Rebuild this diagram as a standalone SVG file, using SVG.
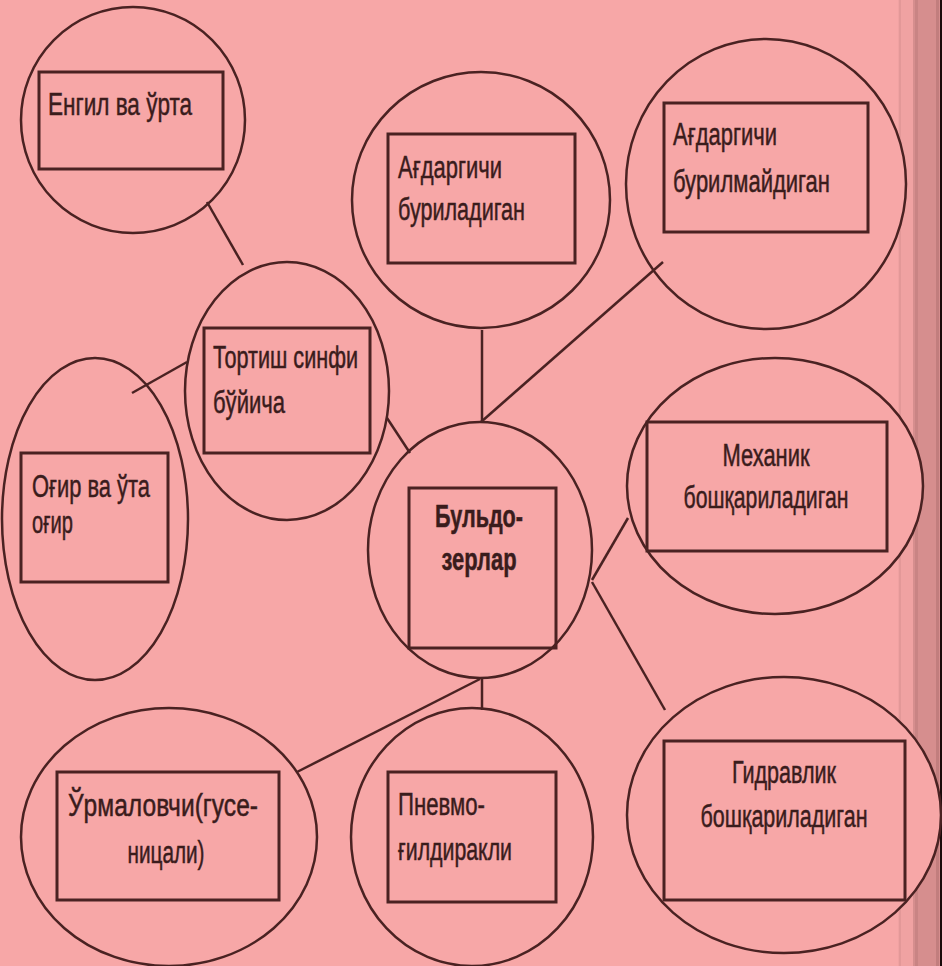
<svg xmlns="http://www.w3.org/2000/svg" width="942" height="966" viewBox="0 0 942 966">
<style>
.bg{fill:#f7a7a7}
.el{fill:#f7a7a7;stroke:#4a2222;stroke-width:2.5}
.bx{fill:none;stroke:#4a2222;stroke-width:3}
.cn{stroke:#4a2222;stroke-width:2.5;fill:none}
text{font-family:"Liberation Sans","DejaVu Sans",sans-serif;font-size:31px;fill:#3a1c1c;stroke:#3a1c1c;stroke-width:0.5}
.b{font-weight:bold}
</style>
<rect class="bg" x="0" y="0" width="942" height="966"/>
<g id="edge-strip">
<rect x="898" y="0" width="15" height="966" fill="#f0a2a2"/>
<rect x="899" y="0" width="2" height="966" fill="#e39898"/>
<rect x="913" y="0" width="27" height="966" fill="#d68e8e"/>
<rect x="915" y="0" width="3" height="966" fill="#c98484"/>
<rect x="936" y="0" width="3" height="966" fill="#c27e7e"/>
<rect x="940" y="0" width="2" height="966" fill="#1a0a0a"/>
</g>
<g id="n-engil">
<ellipse class="el" cx="133" cy="120" rx="112" ry="113"/>
<rect class="bx" x="39" y="72" width="184" height="97"/>
<text x="48" y="115" textLength="144" lengthAdjust="spacingAndGlyphs">Енгил ва ўрта</text>
</g>
<g id="n-ogir">
<ellipse class="el" cx="95" cy="519" rx="93" ry="161"/>
<rect class="bx" x="21" y="453" width="147" height="129"/>
<text x="32" y="497" textLength="118" lengthAdjust="spacingAndGlyphs">Оғир ва ўта</text>
<text x="32" y="533" textLength="41" lengthAdjust="spacingAndGlyphs">оғир</text>
</g>
<g id="n-tortish">
<ellipse class="el" cx="287" cy="391" rx="102" ry="129"/>
<rect class="bx" x="204" y="328" width="166" height="125"/>
<text x="213" y="368" textLength="145" lengthAdjust="spacingAndGlyphs">Тортиш синфи</text>
<text x="213" y="413" textLength="72" lengthAdjust="spacingAndGlyphs">бўйича</text>
</g>
<g id="n-agdar1">
<ellipse class="el" cx="481" cy="200" rx="129" ry="128"/>
<rect class="bx" x="388" y="134" width="187" height="129"/>
<text x="398" y="178" textLength="104" lengthAdjust="spacingAndGlyphs">Ағдаргичи</text>
<text x="398" y="220" textLength="127" lengthAdjust="spacingAndGlyphs">буриладиган</text>
</g>
<g id="n-agdar2">
<ellipse class="el" cx="766" cy="184" rx="140" ry="145"/>
<rect class="bx" x="664" y="103" width="204" height="129"/>
<text x="673" y="145" textLength="104" lengthAdjust="spacingAndGlyphs">Ағдаргичи</text>
<text x="673" y="192" textLength="157" lengthAdjust="spacingAndGlyphs">бурилмайдиган</text>
</g>
<g id="n-center">
<ellipse class="el" cx="480" cy="550" rx="112" ry="128"/>
<rect class="bx" x="409" y="488" width="147" height="160"/>
<text class="b" x="479" y="527" text-anchor="middle" textLength="88" lengthAdjust="spacingAndGlyphs">Бульдо-</text>
<text class="b" x="479" y="570" text-anchor="middle" textLength="75" lengthAdjust="spacingAndGlyphs">зерлар</text>
</g>
<g id="n-mexanik">
<ellipse class="el" cx="775" cy="486" rx="148" ry="128"/>
<rect class="bx" x="647" y="422" width="240" height="129"/>
<text x="766" y="466" text-anchor="middle" textLength="87" lengthAdjust="spacingAndGlyphs">Механик</text>
<text x="766" y="508" text-anchor="middle" textLength="165" lengthAdjust="spacingAndGlyphs">бошқариладиган</text>
</g>
<g id="n-gidravlik">
<ellipse class="el" cx="784" cy="815" rx="157" ry="138"/>
<rect class="bx" x="664" y="741" width="241" height="159"/>
<text x="784" y="783" text-anchor="middle" textLength="104" lengthAdjust="spacingAndGlyphs">Гидравлик</text>
<text x="784" y="827" text-anchor="middle" textLength="167" lengthAdjust="spacingAndGlyphs">бошқариладиган</text>
</g>
<g id="n-urmalovchi">
<ellipse class="el" cx="169" cy="837" rx="148" ry="129"/>
<rect class="bx" x="57" y="772" width="222" height="128"/>
<text x="163" y="816" text-anchor="middle" textLength="190" lengthAdjust="spacingAndGlyphs">Ўрмаловчи(гусе-</text>
<text x="166" y="863" text-anchor="middle" textLength="77" lengthAdjust="spacingAndGlyphs">ницали)</text>
</g>
<g id="n-pnevmo">
<ellipse class="el" cx="472" cy="837" rx="121" ry="129"/>
<rect class="bx" x="388" y="772" width="168" height="130"/>
<text x="398" y="815" textLength="87" lengthAdjust="spacingAndGlyphs">Пневмо-</text>
<text x="398" y="860" textLength="114" lengthAdjust="spacingAndGlyphs">ғилдиракли</text>
</g>
<g id="connectors">
<line class="cn" x1="207" y1="202" x2="243" y2="265"/>
<line class="cn" x1="187" y1="362" x2="132" y2="393"/>
<line class="cn" x1="387" y1="418" x2="410" y2="453"/>
<line class="cn" x1="482" y1="330" x2="482" y2="422"/>
<line class="cn" x1="481" y1="422" x2="663" y2="262"/>
<line class="cn" x1="592" y1="580" x2="628" y2="518"/>
<line class="cn" x1="592" y1="582" x2="665" y2="710"/>
<line class="cn" x1="482" y1="678" x2="482" y2="710"/>
<line class="cn" x1="480" y1="679" x2="297" y2="772"/>
</g>
</svg>
